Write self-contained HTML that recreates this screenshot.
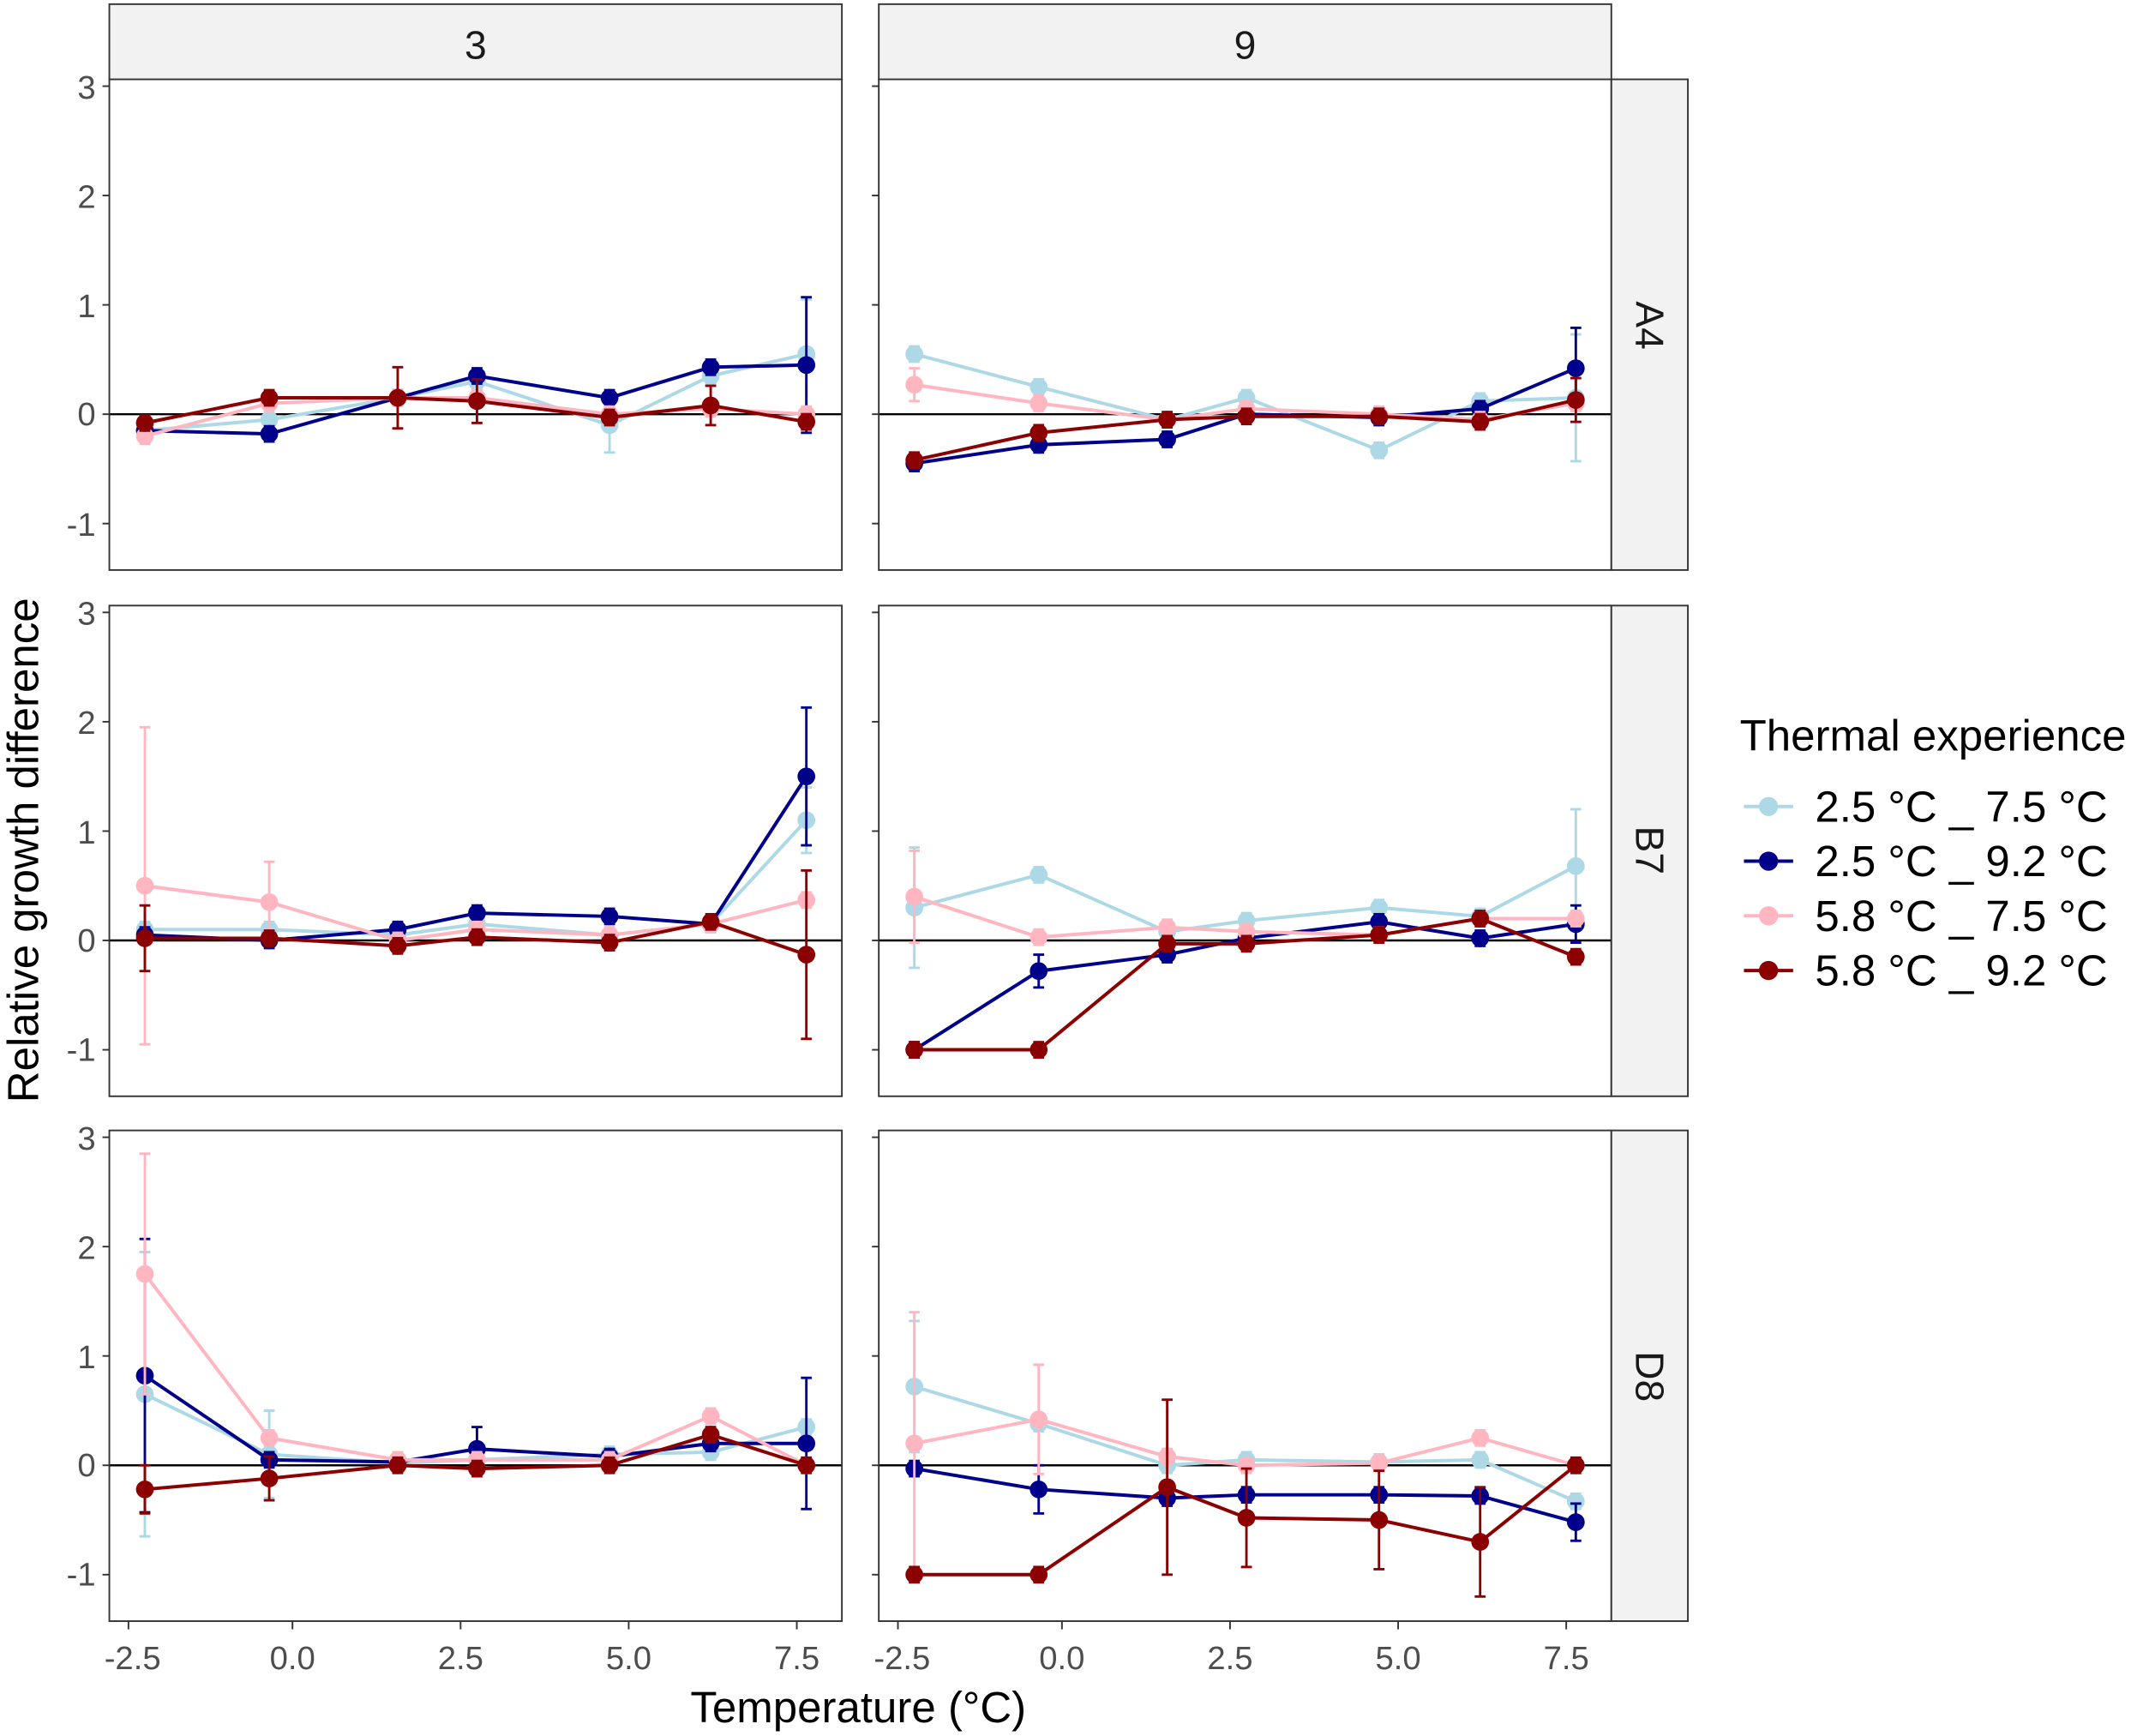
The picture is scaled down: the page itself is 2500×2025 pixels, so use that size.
<!DOCTYPE html>
<html><head><meta charset="utf-8"><style>
html,body{margin:0;padding:0;background:#fff}
svg{display:block}
text{font-family:"Liberation Sans",sans-serif}
.tk{font-size:24px;fill:#4d4d4d}
.st{font-size:29px;fill:#1a1a1a}
</style></head><body>
<svg id="s" width="2500" height="2025" viewBox="0 0 1568 1270" xmlns="http://www.w3.org/2000/svg">
<rect width="1568" height="1270" fill="#fff"/>
<g id="panels"></g>
<rect x="80" y="3" width="536" height="55" fill="#f2f2f2" stroke="#333" stroke-width="1.2"/>
<rect x="643" y="3" width="536" height="55" fill="#f2f2f2" stroke="#333" stroke-width="1.2"/>
<text class="st" x="348" y="43" text-anchor="middle">3</text>
<text class="st" x="911" y="43" text-anchor="middle">9</text>
<rect x="1179" y="58" width="56" height="359" fill="#f2f2f2" stroke="#333" stroke-width="1.2"/>
<rect x="1179" y="443" width="56" height="359" fill="#f2f2f2" stroke="#333" stroke-width="1.2"/>
<rect x="1179" y="827" width="56" height="359" fill="#f2f2f2" stroke="#333" stroke-width="1.2"/>
<text class="st" transform="translate(1197,238) rotate(90)" text-anchor="middle">A4</text>
<text class="st" transform="translate(1197,622) rotate(90)" text-anchor="middle">B7</text>
<text class="st" transform="translate(1197,1007) rotate(90)" text-anchor="middle">D8</text>
<g class="tk" text-anchor="end">
<text x="70" y="72">3</text><text x="70" y="152">2</text><text x="70" y="232">1</text><text x="70" y="311">0</text><text x="70" y="392">-1</text>
<text x="70" y="457">3</text><text x="70" y="537">2</text><text x="70" y="617">1</text><text x="70" y="696">0</text><text x="70" y="776">-1</text>
<text x="70" y="841">3</text><text x="70" y="921">2</text><text x="70" y="1001">1</text><text x="70" y="1080">0</text><text x="70" y="1160">-1</text>
</g>
<g class="tk" text-anchor="middle">
<text x="97" y="1221">-2.5</text><text x="214" y="1221">0.0</text><text x="337" y="1221">2.5</text><text x="460" y="1221">5.0</text><text x="583" y="1221">7.5</text>
<text x="660" y="1221">-2.5</text><text x="777" y="1221">0.0</text><text x="900" y="1221">2.5</text><text x="1023" y="1221">5.0</text><text x="1146" y="1221">7.5</text>
</g>
<text x="628" y="1260" text-anchor="middle" style="font-size:32px" fill="#000">Temperature (°C)</text>
<text transform="translate(28,622) rotate(-90)" text-anchor="middle" style="font-size:32px" fill="#000">Relative growth difference</text>
<text x="1273" y="549" style="font-size:32px" fill="#000">Thermal experience</text>
<g style="font-size:32px" fill="#000">
<line x1="1276" y1="590" x2="1312" y2="590" stroke="#add8e6" stroke-width="2.5"/><circle cx="1294" cy="590" r="7" fill="#add8e6"/><text x="1328" y="601">2.5 °C _ 7.5 °C</text>
<line x1="1276" y1="630" x2="1312" y2="630" stroke="#00008b" stroke-width="2.5"/><circle cx="1294" cy="630" r="7" fill="#00008b"/><text x="1328" y="641">2.5 °C _ 9.2 °C</text>
<line x1="1276" y1="670" x2="1312" y2="670" stroke="#ffb6c1" stroke-width="2.5"/><circle cx="1294" cy="670" r="7" fill="#ffb6c1"/><text x="1328" y="681">5.8 °C _ 7.5 °C</text>
<line x1="1276" y1="710" x2="1312" y2="710" stroke="#8b0000" stroke-width="2.5"/><circle cx="1294" cy="710" r="7" fill="#8b0000"/><text x="1328" y="721">5.8 °C _ 9.2 °C</text>
</g>
</svg>
<script>
(function(){
var NS="http://www.w3.org/2000/svg",g=document.getElementById("panels");
function el(n,a){var e=document.createElementNS(NS,n);for(var k in a)e.setAttribute(k,a[k]);g.appendChild(e);return e;}
var cols=[80,643],rows=[58,443,827],zeros=[303,688,1072],U=80;
var xo=[26,117,211,269,366,440,510];
var C=["#add8e6","#00008b","#ffb6c1","#8b0000"];
var D=[
[[[-0.15,-0.05,0.15,0.3,-0.1,0.35,0.55],[-0.15,-0.18,0.15,0.35,0.15,0.43,0.45],[-0.2,0.1,0.15,0.15,0.0,0.05,0.0],[-0.08,0.15,0.15,0.12,-0.03,0.08,-0.07]],
 [[0.55,0.25,-0.05,0.15,-0.33,0.12,0.15],[-0.45,-0.28,-0.23,0.0,-0.03,0.05,0.42],[0.27,0.1,-0.05,0.05,0.0,-0.05,0.1],[-0.42,-0.17,-0.05,-0.02,-0.02,-0.07,0.13]]],
[[[0.1,0.1,0.05,0.15,0.05,0.15,1.1],[0.05,0.0,0.1,0.25,0.22,0.15,1.5],[0.5,0.35,0.0,0.1,0.05,0.15,0.37],[0.02,0.02,-0.05,0.03,-0.02,0.17,-0.13]],
 [[0.3,0.6,0.08,0.18,0.3,0.22,0.68],[-1.0,-0.28,-0.13,0.02,0.17,0.02,0.15],[0.4,0.03,0.12,0.08,0.05,0.2,0.2],[-1.0,-1.0,-0.03,-0.03,0.05,0.2,-0.15]]],
[[[0.65,0.1,0.02,0.05,0.1,0.12,0.35],[0.82,0.05,0.03,0.15,0.08,0.2,0.2],[1.75,0.25,0.05,0.05,0.05,0.45,0.0],[-0.22,-0.12,0.0,-0.03,0.0,0.28,0.0]],
 [[0.72,0.38,0.0,0.05,0.03,0.05,-0.33],[-0.03,-0.22,-0.3,-0.27,-0.27,-0.28,-0.52],[0.2,0.42,0.08,0.0,0.02,0.25,0.0],[-1.0,-1.0,-0.2,-0.48,-0.5,-0.7,0.0]]]
];
var E={ "0,0,1,6":0.62,"0,0,0,6":0.5,"0,0,3,2":0.28,"0,0,3,3":0.2,"0,0,3,5":0.18,"0,0,0,4":0.25,
"0,1,0,6":0.58,"0,1,1,6":0.37,"0,1,3,6":0.2,"0,1,2,0":0.15,
"1,0,2,0":1.45,"1,0,2,1":0.37,"1,0,1,6":0.63,"1,0,3,6":0.77,"1,0,3,0":0.3,"1,0,0,6":0.3,
"1,1,2,0":0.42,"1,1,0,0":0.55,"1,1,0,6":0.52,"1,1,1,6":0.17,"1,1,1,1":0.15,
"2,0,2,0":1.1,"2,0,1,0":1.25,"2,0,0,0":1.3,"2,0,1,6":0.6,"2,0,0,1":0.4,"2,0,3,0":0.22,"2,0,1,3":0.2,"2,0,3,1":0.2,
"2,1,2,0":1.2,"2,1,0,0":0.6,"2,1,2,1":0.5,"2,1,3,2":0.8,"2,1,3,3":0.45,"2,1,3,4":0.45,"2,1,3,5":0.5,"2,1,1,6":0.17,"2,1,1,1":0.22};
for(var r=0;r<3;r++)for(var c=0;c<2;c++){
 var x0=cols[c],y0=rows[r],z=zeros[r];
 el("rect",{x:x0,y:y0,width:536,height:359,fill:"#fff",stroke:"none"});
 el("line",{x1:x0,y1:z,x2:x0+536,y2:z,stroke:"#000","stroke-width":1.5});
 for(var s=0;s<4;s++){
  var v=D[r][c][s],pts=[];
  for(var i=0;i<7;i++){
   var x=x0+xo[i],y=z-v[i]*U;pts.push(x+","+y);
   var e=E[r+","+c+","+s+","+i]||0.07;
   el("line",{x1:x,y1:y-e*U,x2:x,y2:y+e*U,stroke:C[s],"stroke-width":1.8});
   el("line",{x1:x-4,y1:y-e*U,x2:x+4,y2:y-e*U,stroke:C[s],"stroke-width":1.8});
   el("line",{x1:x-4,y1:y+e*U,x2:x+4,y2:y+e*U,stroke:C[s],"stroke-width":1.8});
  }
  el("polyline",{points:pts.join(" "),fill:"none",stroke:C[s],"stroke-width":2.5});
  for(var i=0;i<7;i++) el("circle",{cx:x0+xo[i],cy:z-v[i]*U,r:6.5,fill:C[s]});
 }
 el("rect",{x:x0,y:y0,width:536,height:359,fill:"none",stroke:"#333","stroke-width":1.2});
 for(var t=-1;t<=3;t++) el("line",{x1:x0-5,y1:z-t*U,x2:x0,y2:z-t*U,stroke:"#333","stroke-width":1.2});
}
var tx=[94,214,337,460,583];
for(var c=0;c<2;c++)for(var k=0;k<5;k++){var x=tx[k]+(c?563:0);el("line",{x1:x,y1:1186,x2:x,y2:1192,stroke:"#333","stroke-width":1.2});}
})();
</script>
</body></html>
